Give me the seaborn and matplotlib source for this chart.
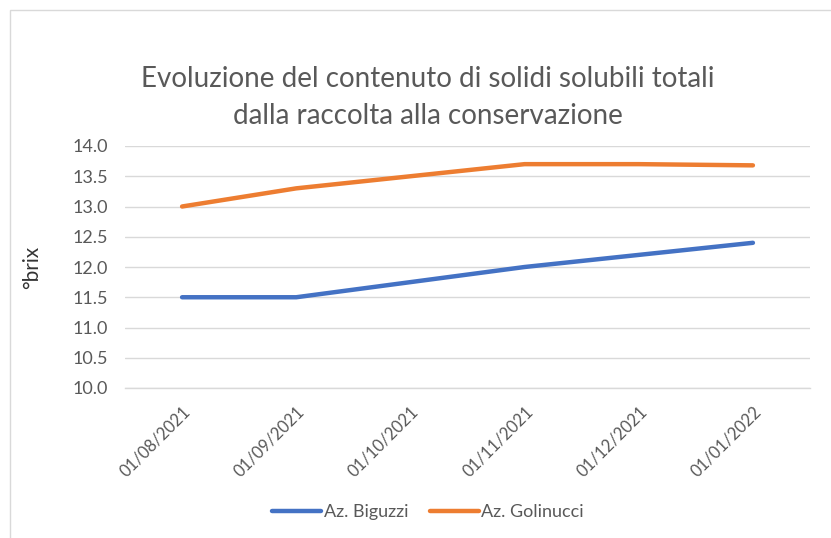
import matplotlib
matplotlib.use("Agg")
import matplotlib.pyplot as plt
import seaborn as sns
import pandas as pd
from matplotlib.patches import Rectangle

dates = ["01/08/2021", "01/09/2021", "01/10/2021", "01/11/2021", "01/12/2021", "01/01/2022"]
biguzzi = [11.5, 11.5, 11.75, 12.0, 12.2, 12.4]
golinucci = [13.0, 13.3, 13.5, 13.7, 13.7, 13.68]
series_names = ["Az. Biguzzi", "Az. Golinucci"]
colors = ["#4472C4", "#ED7D31"]
yticks = [10.0, 10.5, 11.0, 11.5, 12.0, 12.5, 13.0, 13.5, 14.0]

df = pd.DataFrame({
    "pos": list(range(len(dates))) * 2,
    "brix": biguzzi + golinucci,
    "serie": [series_names[0]] * len(dates) + [series_names[1]] * len(dates),
})

sns.set_theme(style="white")
plt.rcParams["font.family"] = ["Lato", "DejaVu Sans"]

W, H = 831, 538
fig = plt.figure(figsize=(W / 100, H / 100), dpi=100)
fig.patch.set_facecolor("white")
# chart frame
fig.add_artist(Rectangle((10 / W, -0.01), 1.0, 1 - 10 / H + 0.01,
                         transform=fig.transFigure, fill=False,
                         edgecolor="#D9D9D9", linewidth=1))

ax = fig.add_axes([125 / W, 1 - 388 / H, (810 - 125) / W, (388 - 146) / H])
sns.lineplot(data=df, x="pos", y="brix", hue="serie", palette=colors,
             linewidth=3.2, ax=ax, legend=False, solid_capstyle="round")

ax.set_xlim(-0.5, len(dates) - 0.5)
ax.set_ylim(10, 14)
ax.set_yticks(yticks)
ax.set_yticklabels([f"{v:.1f}" for v in yticks], fontsize=13, color="#595959")
ax.yaxis.grid(True, color="#D9D9D9", linewidth=1)
ax.set_axisbelow(True)

ax.set_xticks(range(len(dates)))
ax.set_xticklabels(dates, rotation=45, ha="right", rotation_mode="anchor",
                   fontsize=12, color="#595959")
ax.set_xticks([i - 0.5 for i in range(len(dates) + 1)], minor=True)
ax.tick_params(axis="x", which="major", length=0, pad=11)
ax.tick_params(axis="x", which="minor", length=4, color="#D9D9D9", width=1)
ax.tick_params(axis="y", length=0, pad=12)

for side in ["top", "right", "left"]:
    ax.spines[side].set_visible(False)
ax.spines["bottom"].set_color("#D9D9D9")
ax.spines["bottom"].set_linewidth(1)

ax.set_xlabel("")
ax.set_ylabel("°brix", fontsize=15, color="#333333")
ax.yaxis.set_label_coords((42 - 125) / (810 - 125), 0.5)

fig.text(428 / W, 1 - 79 / H, "Evoluzione del contenuto di solidi solubili totali",
         ha="center", va="center", fontsize=20, color="#595959")
fig.text(428 / W, 1 - 116 / H, "dalla raccolta alla conservazione",
         ha="center", va="center", fontsize=20, color="#595959")

handles = [plt.Line2D([], [], color=c, linewidth=3.2) for c in colors]
fig.legend(handles, series_names, loc="center", bbox_to_anchor=(428 / W, 1 - 512 / H),
           ncol=2, frameon=False, fontsize=13, handlelength=2.7, handletextpad=0.15,
           columnspacing=1.2, labelcolor="#595959")

fig.savefig("out.png", dpi=100, facecolor="white")
